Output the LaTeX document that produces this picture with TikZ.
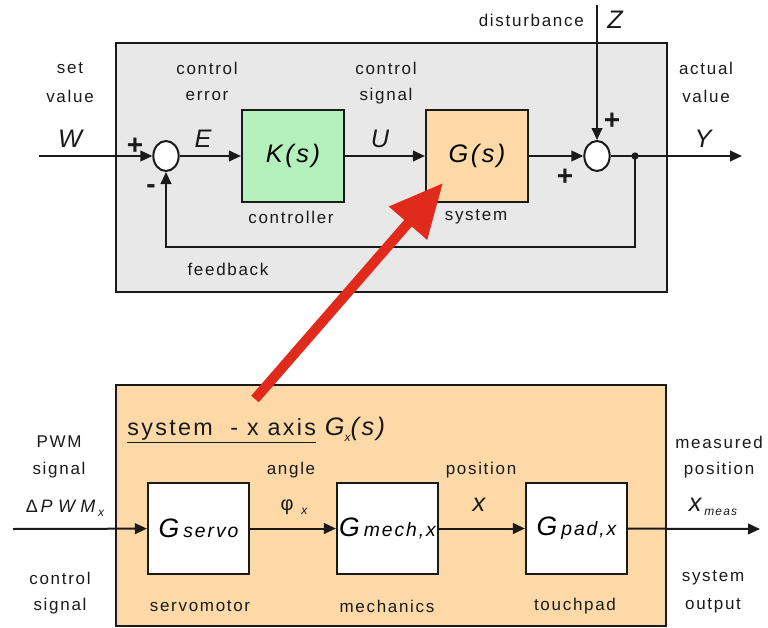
\documentclass[tikz,border=0pt]{standalone}
\usepackage{fontspec}
\setmainfont{Liberation Sans}
\newfontfamily\lab{Liberation Sans}[LetterSpace=10]
\newfontfamily\wlab{Liberation Sans}[LetterSpace=30]
\usetikzlibrary{arrows.meta,shapes.geometric}
\definecolor{panelgray}{HTML}{E8E8E8}
\definecolor{ctrlgreen}{HTML}{B3F0BB}
\definecolor{sysorange}{HTML}{FDD9A8}
\definecolor{arrowred}{HTML}{DF2A1C}
\definecolor{ink}{HTML}{1A1A1A}
\newcommand\lowsub[1]{\raisebox{-0.45ex}{\fontsize{9}{10}\selectfont\itshape #1}}
\begin{document}
\begin{tikzpicture}[x=0.75pt,y=-0.75pt,
  sig/.style={draw=ink,line width=1.5pt,-{Triangle[length=9pt,width=8pt]}},
  wire/.style={draw=ink,line width=1.5pt},
  blk/.style={draw=ink,line width=1.6pt,minimum width=76.5pt,minimum height=69pt,inner sep=0},
  sblk/.style={draw=ink,line width=1.6pt,fill=white,minimum width=75.75pt,minimum height=68.25pt,inner sep=0},
  sumj/.style={ellipse,draw=ink,line width=1.5pt,fill=white,minimum width=19pt,minimum height=22.5pt,inner sep=0},
  lbl/.style={inner sep=0,text=ink,font=\lab\fontsize{12.75}{15}\selectfont},
  var/.style={inner sep=0,text=ink,font=\lab\itshape\fontsize{19}{22}\selectfont},
  sgn/.style={inner sep=0,text=ink,font=\bfseries\fontsize{21}{24}\selectfont},
  panel/.style={draw=ink,line width=1.5pt},
]
\useasboundingbox (0,0) rectangle (768,628);
% panels
\draw[panel,fill=panelgray] (115.5,42.5) rectangle (667,292);
\draw[panel,fill=sysorange] (115.5,385) rectangle (666,626);

% ---------- upper loop ----------
\node[sumj] (s1) at (166,156) {};
\node[blk,fill=ctrlgreen] (K) at (293,156) {\lab\itshape\fontsize{19}{22}\selectfont K(s)};
\node[blk,fill=sysorange] (G) at (477,156) {\lab\itshape\fontsize{19}{22}\selectfont G(s)};
\node[sumj] (s2) at (597,156) {};
\node[circle,fill=ink,inner sep=0,minimum size=5.5pt] (dot) at (635,156) {};

\coordinate (win) at (39,156);
\coordinate (yout) at (742,156);
\coordinate (zin) at (597,5);
\coordinate (fbc) at (635,247);

\draw[sig] (win) -- (s1);
\draw[sig] (s1) -- (K);
\draw[sig] (K) -- (G);
\draw[sig] (G) -- (s2);
\draw[sig] (s2) -- (yout);
\draw[sig] (zin) -- (s2);
\draw[sig] (dot.center) -- (fbc) -| (s1.south);

\node[lbl] (t1) at (70,68) {set};
\node[lbl] (t2) at (70,96) {value};
\node[var] (W) at (70,139) {W};
\node[lbl] (t3) at (207,68) {control};
\node[lbl] (t4) at (207,96) {error};
\node[var] (E) at (203,139) {E};
\node[lbl] (t5) at (386,68) {control};
\node[lbl] (t6) at (386,96) {signal};
\node[var] (U) at (380,139) {U};
\node[lbl] (t7) at (706,68) {actual};
\node[lbl] (t8) at (706,96) {value};
\node[var] (Y) at (703,139) {Y};
\node[lbl,anchor=east] (t9) at (584,20) {disturbance};
\node[var] (Z) at (615,20) {Z};
\node[sgn] (p1) at (135,146) {+};
\node[sgn] (m1) at (151,189) {-};
\node[sgn] (p2) at (612,121) {+};
\node[sgn] (p3) at (565,177) {+};
\node[lbl] (t10) at (291,217) {controller};
\node[lbl] (t11) at (476,217) {system};
\node[lbl] (t12) at (228,269) {feedback};

% ---------- lower chain ----------
\node[anchor=west,inner sep=0,text=ink,font=\lab\fontsize{17.5}{20}\selectfont] (title) at (127,430)
  {\underline{system\ \ -\ x axis}\ {\itshape\fontsize{19}{22}\selectfont G\lowsub{x}(s)}};

\node[sblk] (servo) at (198.5,528.5) {\lab\itshape{\fontsize{20}{24}\selectfont G}\hspace{3pt}{\fontsize{14.5}{18}\selectfont servo}};
\node[sblk] (mech) at (387.5,528.5) {\lab\itshape{\fontsize{20}{24}\selectfont G}\hspace{3pt}{\fontsize{14.5}{18}\selectfont mech,x}};
\node[sblk] (pad) at (576.5,528.5) {\lab\itshape{\fontsize{20}{24}\selectfont G}\hspace{3pt}{\fontsize{14.5}{18}\selectfont pad,x}};

\coordinate (pin) at (13,529);
\coordinate (pout) at (760,529);
\draw[sig] (pin) -- (servo);
\draw[sig] (servo) -- (mech);
\draw[sig] (mech) -- (pad);
\draw[sig] (pad) -- (pout);

\node[lbl] (b1) at (59,442) {PWM};
\node[lbl] (b2) at (59,470) {signal};
\node[inner sep=0,text=ink,font=\wlab\fontsize{13.5}{15}\selectfont] (b3) at (65,508) {\upshape Δ\hspace{2pt}{\itshape PWM}\hspace{2pt}\lowsub{x}};
\node[lbl] (b4) at (60,578) {control};
\node[lbl] (b5) at (60,606) {signal};
\node[lbl] (b6) at (291,470) {angle};
\node[lbl] (b7) at (294,507) {\fontsize{15}{18}\selectfont φ\ \lowsub{x}};
\node[lbl] (b8) at (481,470) {position};
\node[var] (b9) at (479,505) {x};
\node[lbl] (b10) at (719,442) {measured};
\node[lbl] (b11) at (719,470) {position};
\node[lbl] (b12) at (713,507) {{\lab\itshape\fontsize{19}{22}\selectfont x}\,\lowsub{meas}};
\node[lbl] (b13) at (713,578) {system};
\node[lbl] (b14) at (713,606) {output};
\node[lbl] (b15) at (200,606) {servomotor};
\node[lbl] (b16) at (387,606) {mechanics};
\node[lbl] (b17) at (575,606) {touchpad};

% ---------- red pointer ----------
\coordinate (rtail) at (255,399);
\coordinate (rhead) at (443,183);
\draw[arrowred,line width=7.5pt,-{Triangle[length=40pt,width=36pt]}] (rtail) -- (rhead);
\end{tikzpicture}
\end{document}
